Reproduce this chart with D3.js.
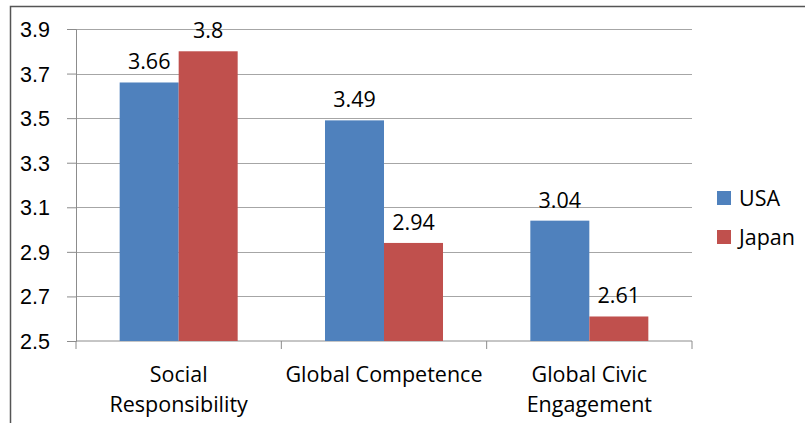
<!DOCTYPE html>
<html>
<head>
<meta charset="UTF-8">
<script src="https://d3js.org/d3.v7.min.js"></script>
<style>
  body { margin: 0; background: #fff; }
  svg { font-family: "Open Sans", sans-serif; }
</style>
</head>
<body>
<div id="chart"></div>
<script>
// data
var categories = [["Social", "Responsibility"], ["Global Competence"], ["Global Civic", "Engagement"]];
var seriesNames = ["USA", "Japan"];
var usa = [3.66, 3.49, 3.04];
var japan = [3.8, 2.94, 2.61];
var yTicks = [2.5, 2.7, 2.9, 3.1, 3.3, 3.5, 3.7, 3.9];
var colors = ["#4f81bd", "#c0504d"];

var width = 810, height = 423;
var margin = {left: 76, right: 118, top: 29, bottom: 82};
var fs = "21.5px";

var svg = d3.select("#chart").append("svg")
  .attr("width", width)
  .attr("height", height);

// outer frame
svg.append("path")
  .attr("d", "M10.5,423 V6.5 H805")
  .attr("fill", "none")
  .attr("stroke", "#555")
  .attr("stroke-width", 1.5);

var x0 = d3.scaleBand()
  .domain(d3.range(categories.length))
  .range([margin.left, width - margin.right]);

var x1 = d3.scaleBand()
  .domain(seriesNames)
  .range([0, x0.bandwidth()])
  .paddingInner(0)
  .paddingOuter(0.74);

var y = d3.scaleLinear()
  .domain([2.5, 3.9])
  .range([height - margin.bottom, margin.top]);

// gridlines
svg.append("g").selectAll("line")
  .data(yTicks.slice(1))
  .enter().append("line")
  .attr("x1", margin.left)
  .attr("x2", width - margin.right)
  .attr("y1", function(d) { return Math.round(y(d)) + 0.5; })
  .attr("y2", function(d) { return Math.round(y(d)) + 0.5; })
  .attr("stroke", "#a6a6a6")
  .attr("stroke-width", 1.2);

// y axis
var yAxis = svg.append("g")
  .attr("transform", "translate(" + margin.left + ",0)")
  .call(d3.axisLeft(y).tickValues(yTicks).tickSize(9).tickPadding(17).tickFormat(d3.format(".1f")));
yAxis.select(".domain").attr("stroke", "#8c8c8c");
yAxis.selectAll(".tick line").attr("stroke", "#8c8c8c");
yAxis.selectAll("text").attr("fill", "#000").style("font-size", fs).attr("dy", "0.35em");

// x axis
var xAxis = svg.append("g")
  .attr("transform", "translate(0," + y(2.5) + ")");
xAxis.append("line")
  .attr("x1", margin.left).attr("x2", width - margin.right)
  .attr("stroke", "#8c8c8c");
xAxis.selectAll(".tk")
  .data(d3.range(categories.length + 1))
  .enter().append("line")
  .attr("x1", function(i) { return margin.left + i * x0.step(); })
  .attr("x2", function(i) { return margin.left + i * x0.step(); })
  .attr("y1", 0).attr("y2", 8)
  .attr("stroke", "#8c8c8c");

var labels = xAxis.selectAll(".cat")
  .data(categories)
  .enter().append("text")
  .attr("text-anchor", "middle")
  .style("font-size", fs)
  .attr("x", function(d, i) { return x0(i) + x0.bandwidth() / 2; });
labels.each(function(d) {
  var t = d3.select(this);
  d.forEach(function(line, k) {
    t.append("tspan")
      .attr("x", t.attr("x"))
      .attr("y", 41 + k * 30)
      .text(line);
  });
});

// bars
var rows = categories.map(function(c, i) {
  return [{s: "USA", v: usa[i]}, {s: "Japan", v: japan[i]}];
});

var groups = svg.append("g").selectAll("g")
  .data(rows)
  .enter().append("g")
  .attr("transform", function(d, i) { return "translate(" + x0(i) + ",0)"; });

groups.selectAll("rect")
  .data(function(d) { return d; })
  .enter().append("rect")
  .attr("x", function(d) { return x1(d.s); })
  .attr("width", x1.bandwidth())
  .attr("y", function(d) { return y(d.v); })
  .attr("height", function(d) { return y(2.5) - y(d.v); })
  .attr("fill", function(d, i) { return colors[i]; });

groups.selectAll("text")
  .data(function(d) { return d; })
  .enter().append("text")
  .attr("text-anchor", "middle")
  .style("font-size", fs)
  .attr("x", function(d) { return x1(d.s) + x1.bandwidth() / 2; })
  .attr("y", function(d) { return y(d.v) - 13; })
  .text(function(d) { return d.v; });

// legend
var legend = svg.append("g").selectAll("g")
  .data(seriesNames)
  .enter().append("g")
  .attr("transform", function(d, i) { return "translate(717," + (191 + i * 39) + ")"; });
legend.append("rect")
  .attr("width", 14).attr("height", 14)
  .attr("fill", function(d, i) { return colors[i]; });
legend.append("text")
  .attr("x", 22).attr("y", 7).attr("dy", "0.35em")
  .style("font-size", fs)
  .text(function(d) { return d; });
</script>
</body>
</html>
